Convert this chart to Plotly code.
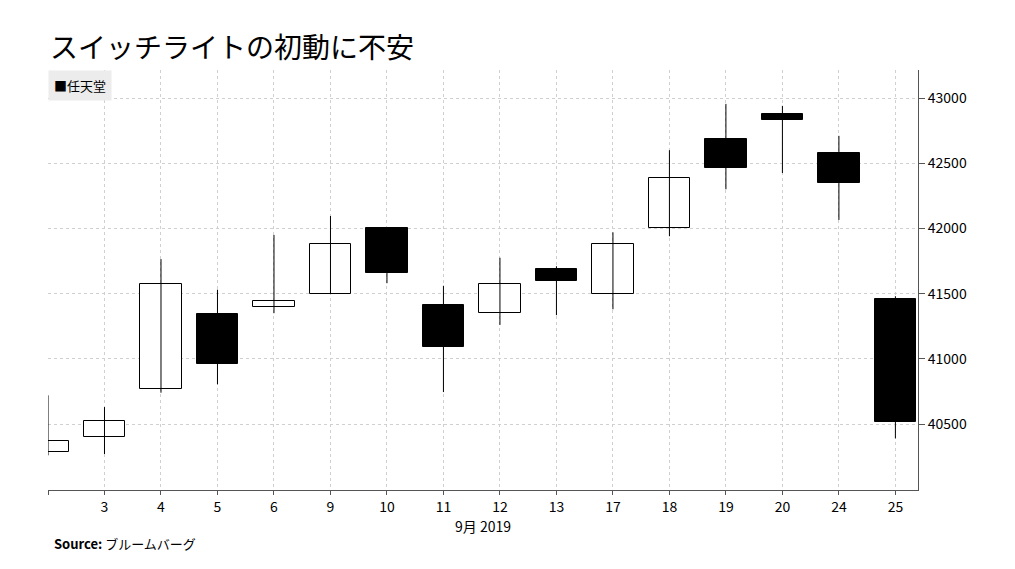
import plotly.graph_objects as go

# ===== Data =====
days = ["2", "3", "4", "5", "6", "9", "10", "11", "12", "13", "17", "18", "19", "20", "24", "25"]
opens = [40285, 40400, 40770, 41345, 41400, 41500, 42000, 41410, 41350, 41690, 41500, 42000, 42685, 42875, 42580, 41460]
highs = [40720, 40630, 41765, 41530, 41950, 42095, 42000, 41560, 41775, 41710, 41970, 42600, 42955, 42940, 42710, 41480]
lows = [40260, 40270, 40740, 40805, 41350, 41500, 41580, 40745, 41260, 41335, 41380, 41940, 42300, 42425, 42065, 40390]
closes = [40370, 40523, 41575, 40960, 41445, 41880, 41660, 41090, 41575, 41595, 41880, 42385, 42465, 42830, 42350, 40515]
y_ticks = [40500, 41000, 41500, 42000, 42500, 43000]

xs = list(range(len(days)))

fig = go.Figure()

# wicks
wx, wy = [], []
for i in xs:
    wx += [i, i, None]
    wy += [lows[i], highs[i], None]
fig.add_trace(go.Scatter(x=wx, y=wy, mode="lines", line=dict(color="black", width=1),
                         showlegend=False, hoverinfo="skip"))

# bodies
base = [min(o, c) for o, c in zip(opens, closes)]
height = [max(abs(c - o), 8) for o, c in zip(opens, closes)]
fills = ["white" if c > o else "black" for o, c in zip(opens, closes)]
fig.add_trace(go.Bar(x=xs, y=height, base=base, width=0.74,
                     marker=dict(color=fills, line=dict(color="black", width=1)),
                     showlegend=False))

fig.update_layout(
    width=1015, height=569,
    margin=dict(l=40, r=105, t=62, b=87, autoexpand=False),
    plot_bgcolor="white", paper_bgcolor="white",
    font=dict(family="Noto Sans CJK JP", color="black", size=14),
    bargap=0,
)
# the "2" label is cut off at the left edge in the original
fig.update_xaxes(
    range=[0, 15.4], tickvals=xs, ticktext=[""] + days[1:], showgrid=True,
    gridcolor="#d0d0d0", griddash="dot", showline=True, linecolor="#555555",
    ticks="outside", ticklen=4, tickcolor="#555555", zeroline=False,
    automargin=False,
    title=dict(text="9月 2019", font=dict(size=14), standoff=4),
)
fig.update_yaxes(
    range=[39994, 43215], side="right", tickvals=y_ticks,
    ticktext=[str(v) for v in y_ticks], showgrid=True, gridcolor="#d0d0d0",
    griddash="dot", showline=True, linecolor="#555555", ticks="outside",
    ticklen=6, tickcolor="#555555", zeroline=False, automargin=False,
)

fig.add_annotation(text="スイッチライトの初動に不安", xref="paper", yref="paper",
                   x=-0.0, y=1.0, yshift=2, xanchor="left", yanchor="bottom",
                   showarrow=False, font=dict(size=28, family="Noto Sans CJK JP"))
fig.add_annotation(text="■任天堂", xref="paper", yref="paper", x=0, y=1,
                   xanchor="left", yanchor="top", showarrow=False,
                   bgcolor="#ececec", borderpad=5, font=dict(size=13))
fig.add_annotation(text="<b>Source:</b> ブルームバーグ", xref="paper", yref="paper",
                   x=0.005, y=0, yshift=-42, xanchor="left", yanchor="top",
                   showarrow=False, font=dict(size=13))

fig.write_html("out.html")
